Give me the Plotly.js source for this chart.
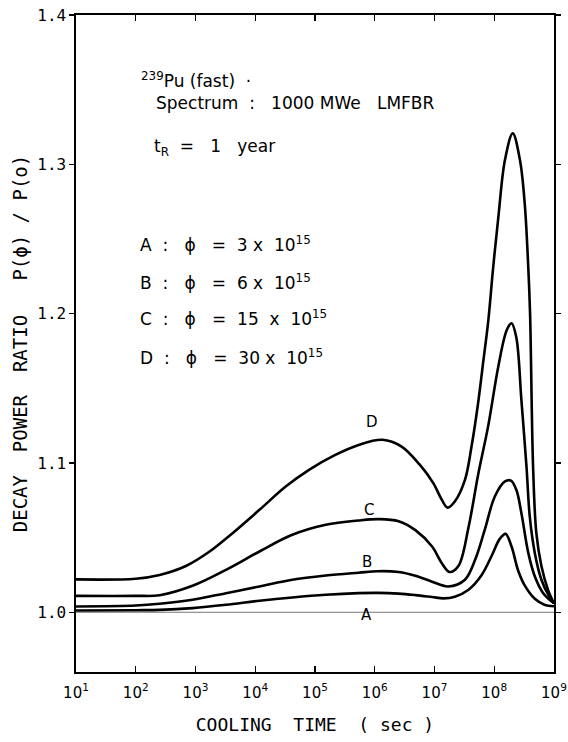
<!DOCTYPE html>
<html>
<head>
<meta charset="utf-8">
<script src="https://cdn.plot.ly/plotly-3.0.1.min.js"></script>
<style>html,body{margin:0;padding:0;background:#fff;}#chart{width:568px;height:742px;}</style>
</head>
<body>
<div id="chart"></div>
<script>
// Cooling time given as log10(seconds)
const logTimeA = [1.0, 2.0, 2.4, 2.95, 3.51, 4.07, 4.62, 5.18, 5.73, 6.05, 6.4, 6.68, 6.96, 7.15, 7.34, 7.57, 7.79, 7.96, 8.09, 8.19, 8.29, 8.4, 8.51, 8.68, 8.84, 9.0];
const ratioA   = [1.0012, 1.0014, 1.0016, 1.0028, 1.005, 1.0077, 1.0099, 1.0117, 1.0128, 1.013, 1.0125, 1.0115, 1.0102, 1.0093, 1.0104, 1.0151, 1.025, 1.038, 1.049, 1.0525, 1.044, 1.028, 1.018, 1.009, 1.005, 1.004];

const logTimeB = [1.0, 2.0, 2.4, 2.95, 3.51, 4.07, 4.62, 5.18, 5.73, 6.05, 6.4, 6.68, 6.96, 7.23, 7.51, 7.68, 7.84, 8.01, 8.18, 8.28, 8.37, 8.455, 8.57, 8.68, 8.82, 9.0];
const ratioB   = [1.0039, 1.0045, 1.0057, 1.0084, 1.0128, 1.0173, 1.0218, 1.0246, 1.0265, 1.0275, 1.027, 1.0245, 1.0205, 1.0173, 1.0218, 1.0351, 1.055, 1.0775, 1.0876, 1.0882, 1.082, 1.0664, 1.0398, 1.024, 1.0128, 1.006];

const logTimeC = [1.0, 2.0, 2.4, 2.95, 3.51, 4.07, 4.62, 5.18, 5.73, 6.07, 6.4, 6.68, 6.96, 7.12, 7.25, 7.4, 7.57, 7.73, 7.9, 8.07, 8.21, 8.29, 8.37, 8.455, 8.54, 8.595, 8.68, 8.79, 8.92, 9.0];
const ratioC   = [1.011, 1.011, 1.0114, 1.0177, 1.0284, 1.0407, 1.0519, 1.0586, 1.0615, 1.0624, 1.061, 1.055, 1.044, 1.033, 1.027, 1.031, 1.057, 1.092, 1.125, 1.165, 1.189, 1.1936, 1.184, 1.142, 1.0976, 1.064, 1.0396, 1.0218, 1.0106, 1.006];

const logTimeD = [1.0, 2.0, 2.4, 2.84, 3.23, 3.62, 4.07, 4.51, 4.9, 5.34, 5.73, 6.13, 6.45, 6.75, 6.98, 7.12, 7.22, 7.34, 7.51, 7.62, 7.73, 7.82, 7.9, 7.98, 8.07, 8.18, 8.31, 8.43, 8.51, 8.57, 8.6, 8.65, 8.705, 8.79, 8.9, 9.0];
const ratioD   = [1.022, 1.0225, 1.025, 1.031, 1.0405, 1.053, 1.0686, 1.0842, 1.0954, 1.1054, 1.1121, 1.1155, 1.111, 1.099, 1.0865, 1.0755, 1.0701, 1.0742, 1.0887, 1.111, 1.14, 1.169, 1.195, 1.23, 1.265, 1.303, 1.3207, 1.303, 1.274, 1.231, 1.2, 1.098, 1.053, 1.031, 1.015, 1.006];

const xTickVals = [1e1, 1e2, 1e3, 1e4, 1e5, 1e6, 1e7, 1e8, 1e9];
const xTickText = ['10<sup>1</sup>', '10<sup>2</sup>', '10<sup>3</sup>', '10<sup>4</sup>', '10<sup>5</sup>', '10<sup>6</sup>', '10<sup>7</sup>', '10<sup>8</sup>', '10<sup>9</sup>'];
const yTickVals = [1.0, 1.1, 1.2, 1.3, 1.4];
const yTickText = ['1.0', '1.1', '1.2', '1.3', '1.4'];
const referenceRatio = 1.0;

const curveLabels = ['A', 'B', 'C', 'D'];
const S2 = '\u00A0\u00A0', S3 = '\u00A0\u00A0\u00A0';
const fluxLines = [
  'A' + S2 + ':' + S3 + '\u03D5' + S3 + '=' + S2 + '3 x' + S2 + '10<sup>15</sup>',
  'B' + S2 + ':' + S3 + '\u03D5' + S3 + '=' + S2 + '6 x' + S2 + '10<sup>15</sup>',
  'C' + S2 + ':' + S3 + '\u03D5' + S3 + '=' + S2 + '15' + S2 + 'x' + S2 + '10<sup>15</sup>',
  'D' + S2 + ':' + S3 + '\u03D5' + S3 + '=' + S2 + '30 x' + S2 + '10<sup>15</sup>'
];

const toTime = arr => arr.map(v => Math.pow(10, v));
const lineStyle = {color: '#000', width: 2.6, shape: 'spline', smoothing: 1.0};
const traces = [
  {x: toTime(logTimeA), y: ratioA, name: 'A'},
  {x: toTime(logTimeB), y: ratioB, name: 'B'},
  {x: toTime(logTimeC), y: ratioC, name: 'C'},
  {x: toTime(logTimeD), y: ratioD, name: 'D'}
].map(t => Object.assign(t, {type: 'scatter', mode: 'lines', line: lineStyle, hoverinfo: 'skip'}));

const txtFont = {family: 'DejaVu Sans', size: 17, color: '#000'};
const annotations = [
  {x: 2.06, y: 1.3564, text: '<sup>239</sup>Pu (fast)' + S2 + '\u00B7'},
  {x: 2.30, y: 1.341, text: 'Spectrum' + S2 + ':' + S3 + '1000 MWe' + S3 + 'LMFBR'},
  {x: 2.27, y: 1.3116, text: 't<sub>R</sub>' + S2 + '=' + S3 + '1' + S3 + 'year'},
  {x: 2.03, y: 1.2467, text: fluxLines[0]},
  {x: 2.03, y: 1.2212, text: fluxLines[1]},
  {x: 2.03, y: 1.1968, text: fluxLines[2]},
  {x: 2.03, y: 1.171, text: fluxLines[3]}
].map(a => Object.assign(a, {xref: 'x', yref: 'y', xanchor: 'left', yanchor: 'middle', showarrow: false, font: txtFont}));

const labelPos = [[5.87, 0.9983], [5.87, 1.0338], [5.90, 1.0686], [5.95, 1.1275]];
curveLabels.forEach((lab, i) => {
  annotations.push({x: labelPos[i][0], y: labelPos[i][1], xref: 'x', yref: 'y', text: lab, showarrow: false,
    xanchor: 'center', yanchor: 'middle', font: {family: 'DejaVu Sans', size: 15, color: '#000'}});
});

const layout = {
  width: 568, height: 742,
  margin: {l: 76, r: 14, t: 15, b: 70},
  paper_bgcolor: '#fff', plot_bgcolor: '#fff',
  showlegend: false,
  xaxis: {
    type: 'log', range: [1, 9.0005],
    tickvals: xTickVals, ticktext: xTickText,
    ticks: 'inside', ticklen: 6, tickwidth: 1.2, tickcolor: '#000',
    showline: true, linecolor: '#000', linewidth: 1.6, mirror: 'ticks',
    showgrid: false, zeroline: false,
    ticklabelstandoff: 6, ticklabeloverflow: 'allow',
    tickfont: {family: 'DejaVu Sans', size: 15, color: '#000'},
    title: {text: 'COOLING\u00A0\u00A0TIME\u00A0\u00A0(\u00A0sec\u00A0)', font: {family: 'DejaVu Sans Mono', size: 18, color: '#000'}, standoff: 18}
  },
  yaxis: {
    range: [0.96, 1.4],
    tickvals: yTickVals, ticktext: yTickText,
    ticks: 'outside', ticklen: 5, tickwidth: 1.2, tickcolor: '#000',
    showline: true, linecolor: '#000', linewidth: 1.6, mirror: 'ticks',
    showgrid: false, zeroline: false,
    tickfont: {family: 'DejaVu Sans Mono', size: 16, color: '#000'},
    title: {text: 'DECAY\u00A0\u00A0POWER\u00A0\u00A0RATIO\u00A0\u00A0\u00A0P(\u03D5)\u00A0/\u00A0P(o)', font: {family: 'DejaVu Sans Mono', size: 19, color: '#000'}, standoff: 4}
  },
  shapes: [{type: 'line', xref: 'paper', x0: 0, x1: 1, yref: 'y', y0: referenceRatio, y1: referenceRatio,
    line: {color: '#777', width: 1}, layer: 'below'}],
  annotations: annotations
};

Plotly.newPlot('chart', traces, layout, {displayModeBar: false, staticPlot: true});
</script>
</body>
</html>
